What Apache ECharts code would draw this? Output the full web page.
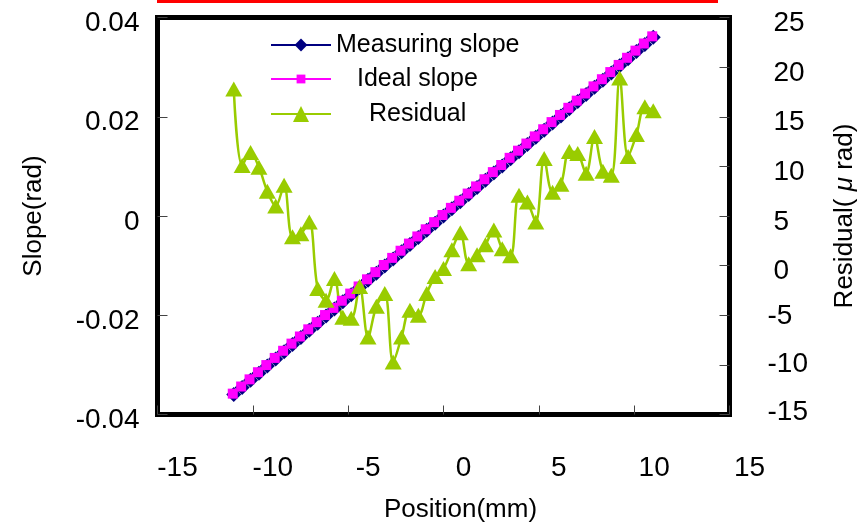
<!DOCTYPE html>
<html>
<head>
<meta charset="utf-8">
<script src="https://cdn.jsdelivr.net/npm/echarts@6/dist/echarts.min.js"></script>
<style>
  html, body { margin: 0; padding: 0; background: #fff; }
  #chart { width: 864px; height: 528px; }
</style>
</head>
<body>
<div id="chart"></div>
<script>
// Scan positions along the mirror (mm)
const positions = [-11, -10.56, -10.12, -9.68, -9.24, -8.8, -8.36, -7.92, -7.48, -7.04,
  -6.6, -6.16, -5.72, -5.28, -4.84, -4.4, -3.96, -3.52, -3.08, -2.64,
  -2.2, -1.76, -1.32, -0.88, -0.44, 0, 0.44, 0.88, 1.32, 1.76,
  2.2, 2.64, 3.08, 3.52, 3.96, 4.4, 4.84, 5.28, 5.72, 6.16,
  6.6, 7.04, 7.48, 7.92, 8.36, 8.8, 9.24, 9.68, 10.12, 10.56, 11];

// Measured slope (rad)
const measuringSlope = [-0.035982, -0.034550, -0.033109, -0.031670, -0.030232, -0.028794, -0.027352, -0.025917, -0.024477, -0.023036,
  -0.021602, -0.020164, -0.018721, -0.017285, -0.015845, -0.014402, -0.012967, -0.011524, -0.010083, -0.008650,
  -0.007207, -0.005765, -0.004325, -0.002883, -0.001441, 0.000000, 0.001442, 0.002883, 0.004320, 0.005761,
  0.007202, 0.008644, 0.010082, 0.011521, 0.012967, 0.014406, 0.015844, 0.017291, 0.018727, 0.020168,
  0.021612, 0.023051, 0.024489, 0.025933, 0.027370, 0.028809, 0.030259, 0.031691, 0.033133, 0.034576, 0.036016];

// Best-fit (ideal) slope (rad)
const idealSlope = [-0.03600, -0.03456, -0.03312, -0.03168, -0.03024, -0.02880, -0.02736, -0.02592, -0.02448, -0.02304,
  -0.02160, -0.02016, -0.01872, -0.01728, -0.01584, -0.01440, -0.01296, -0.01152, -0.01008, -0.00864,
  -0.00720, -0.00576, -0.00432, -0.00288, -0.00144, 0.00000, 0.00144, 0.00288, 0.00432, 0.00576,
  0.00720, 0.00864, 0.01008, 0.01152, 0.01296, 0.01440, 0.01584, 0.01728, 0.01872, 0.02016,
  0.02160, 0.02304, 0.02448, 0.02592, 0.02736, 0.02880, 0.03024, 0.03168, 0.03312, 0.03456, 0.03600];

// Residual (micro-rad)
const residual = [17.8, 10.1, 11.4, 9.9, 7.5, 6.0, 8.1, 2.9, 3.2, 4.4,
  -2.3, -3.5, -1.3, -5.2, -5.3, -2.1, -7.2, -4.1, -2.8, -9.7,
  -7.2, -4.5, -5.0, -2.8, -1.1, -0.3, 1.6, 3.3, 0.2, 1.1,
  2.1, 3.6, 1.7, 1.0, 7.1, 6.4, 4.4, 10.8, 7.4, 8.2,
  11.5, 11.3, 9.3, 13.0, 9.5, 9.1, 18.9, 11.0, 13.2, 16.0, 15.6];

const seriesNames = ['Measuring slope', 'Ideal slope', 'Residual'];
const xTitle = 'Position(mm)';
const yLeftTitle = 'Slope(rad)';
const yRightTitle = 'Residual( {mu|μ} rad)';

const FONT = '"Liberation Sans", Arial, Helvetica, sans-serif';
const NAVY = '#000080';
const MAGENTA = '#FF00FF';
const LIME = '#99CC00';
const TICK_SIZE = 28;

const pairs = (ys) => positions.map((x, i) => [x, ys[i]]);

const chart = echarts.init(document.getElementById('chart'), null, { renderer: 'canvas' });

const legendText = { fontSize: 25, lineHeight: 26, color: '#000', fontFamily: FONT };
const tickRich = (pad) => ({ fontSize: TICK_SIZE, fontFamily: FONT, color: '#000', padding: pad });

chart.setOption({
  animation: false,
  backgroundColor: '#fff',
  grid: {
    left: 157.5, right: 134.5, top: 17.5, bottom: 113.5,
    show: true, borderColor: '#000', borderWidth: 5, backgroundColor: '#fff',
    outerBoundsMode: 'none'
  },
  graphic: [{
    type: 'rect', left: 157, top: 0, shape: { width: 561, height: 3 },
    style: { fill: '#FF0000' }, silent: true
  }],
  legend: [
    { data: [seriesNames[0]], left: 270, top: 32, padding: 0, itemWidth: 60, itemHeight: 16,
      textStyle: legendText },
    { data: [seriesNames[1]], left: 270, top: 66, padding: 0, itemWidth: 60, itemHeight: 11,
      textStyle: Object.assign({}, legendText, { padding: [0, 0, 0, 21] }) },
    { data: [seriesNames[2]], left: 270, top: 101, padding: 0, itemWidth: 60, itemHeight: 20,
      textStyle: Object.assign({}, legendText, { padding: [0, 0, 0, 33] }) }
  ],
  xAxis: {
    type: 'value', min: -15, max: 15, interval: 5,
    name: xTitle, nameLocation: 'middle', nameGap: 82,
    nameTextStyle: { fontSize: 26, color: '#000', fontFamily: FONT, padding: [0, 0, 0, 34] },
    axisLine: { show: false, onZero: false },
    axisTick: { show: true, inside: true, length: 9, lineStyle: { color: '#444', width: 1 } },
    splitLine: { show: false },
    axisLabel: { margin: 40, fontSize: TICK_SIZE, color: '#000', fontFamily: FONT, padding: [0, 0, 0, 40],
      showMinLabel: true, showMaxLabel: true }
  },
  yAxis: [
    {
      type: 'value', min: -0.04, max: 0.04, interval: 0.02, position: 'left',
      name: yLeftTitle, nameLocation: 'middle', nameGap: 111, nameRotate: 90,
      nameTextStyle: { fontSize: 26, color: '#000', fontFamily: FONT },
      axisLine: { show: false, onZero: false },
      axisTick: { show: true, inside: true, length: 10, lineStyle: { color: '#444', width: 1 } },
      splitLine: { show: false },
      axisLabel: {
        margin: 18, fontSize: TICK_SIZE, color: '#000', fontFamily: FONT,
        showMinLabel: true, showMaxLabel: true,
        formatter: (v) => '{s|' + v + '}',
        rich: { s: tickRich([12, 0, 0, 0]) }
      }
    },
    {
      type: 'value', min: -15, max: 25, interval: 5, position: 'right',
      name: yRightTitle, nameLocation: 'middle', nameGap: 102, nameRotate: 90,
      nameTextStyle: { fontSize: 26, color: '#000', fontFamily: FONT,
        rich: { mu: { fontSize: 26, fontStyle: 'italic', fontFamily: FONT, color: '#000' } } },
      axisLine: { show: false, onZero: false },
      axisTick: { show: true, inside: true, length: 10, lineStyle: { color: '#444', width: 1 } },
      splitLine: { show: false },
      axisLabel: {
        margin: 38, color: '#000', fontSize: TICK_SIZE, fontFamily: FONT,
        showMinLabel: true, showMaxLabel: true,
        formatter: (v) => {
          if (v >= 0) return '{p|' + v + '}';
          if (v === -5) return '{a|' + v + '}';
          if (v === -10) return '{b|' + v + '}';
          return '{c|' + v + '}';
        },
        rich: {
          p: tickRich([12, 0, 0, 6]),
          a: tickRich([2, 0, 0, 0]),
          b: tickRich([0, 0, 2, 0]),
          c: tickRich([0, 0, 4, 0])
        }
      }
    }
  ],
  series: [
    {
      name: seriesNames[0], type: 'line', yAxisIndex: 0, data: pairs(measuringSlope),
      symbol: 'diamond', symbolSize: 15, showAllSymbol: true,
      lineStyle: { color: NAVY, width: 2 }, itemStyle: { color: NAVY }
    },
    {
      name: seriesNames[1], type: 'line', yAxisIndex: 0, data: pairs(idealSlope),
      symbol: 'rect', symbolSize: 10, symbolOffset: [-1, -1], showAllSymbol: true,
      lineStyle: { color: MAGENTA, width: 2 }, itemStyle: { color: MAGENTA }
    },
    {
      name: seriesNames[2], type: 'line', yAxisIndex: 1, data: pairs(residual),
      symbol: 'triangle', symbolSize: [17, 15], showAllSymbol: true, smooth: 0.35,
      lineStyle: { color: LIME, width: 2.5 }, itemStyle: { color: LIME }
    }
  ]
});
</script>
</body>
</html>
